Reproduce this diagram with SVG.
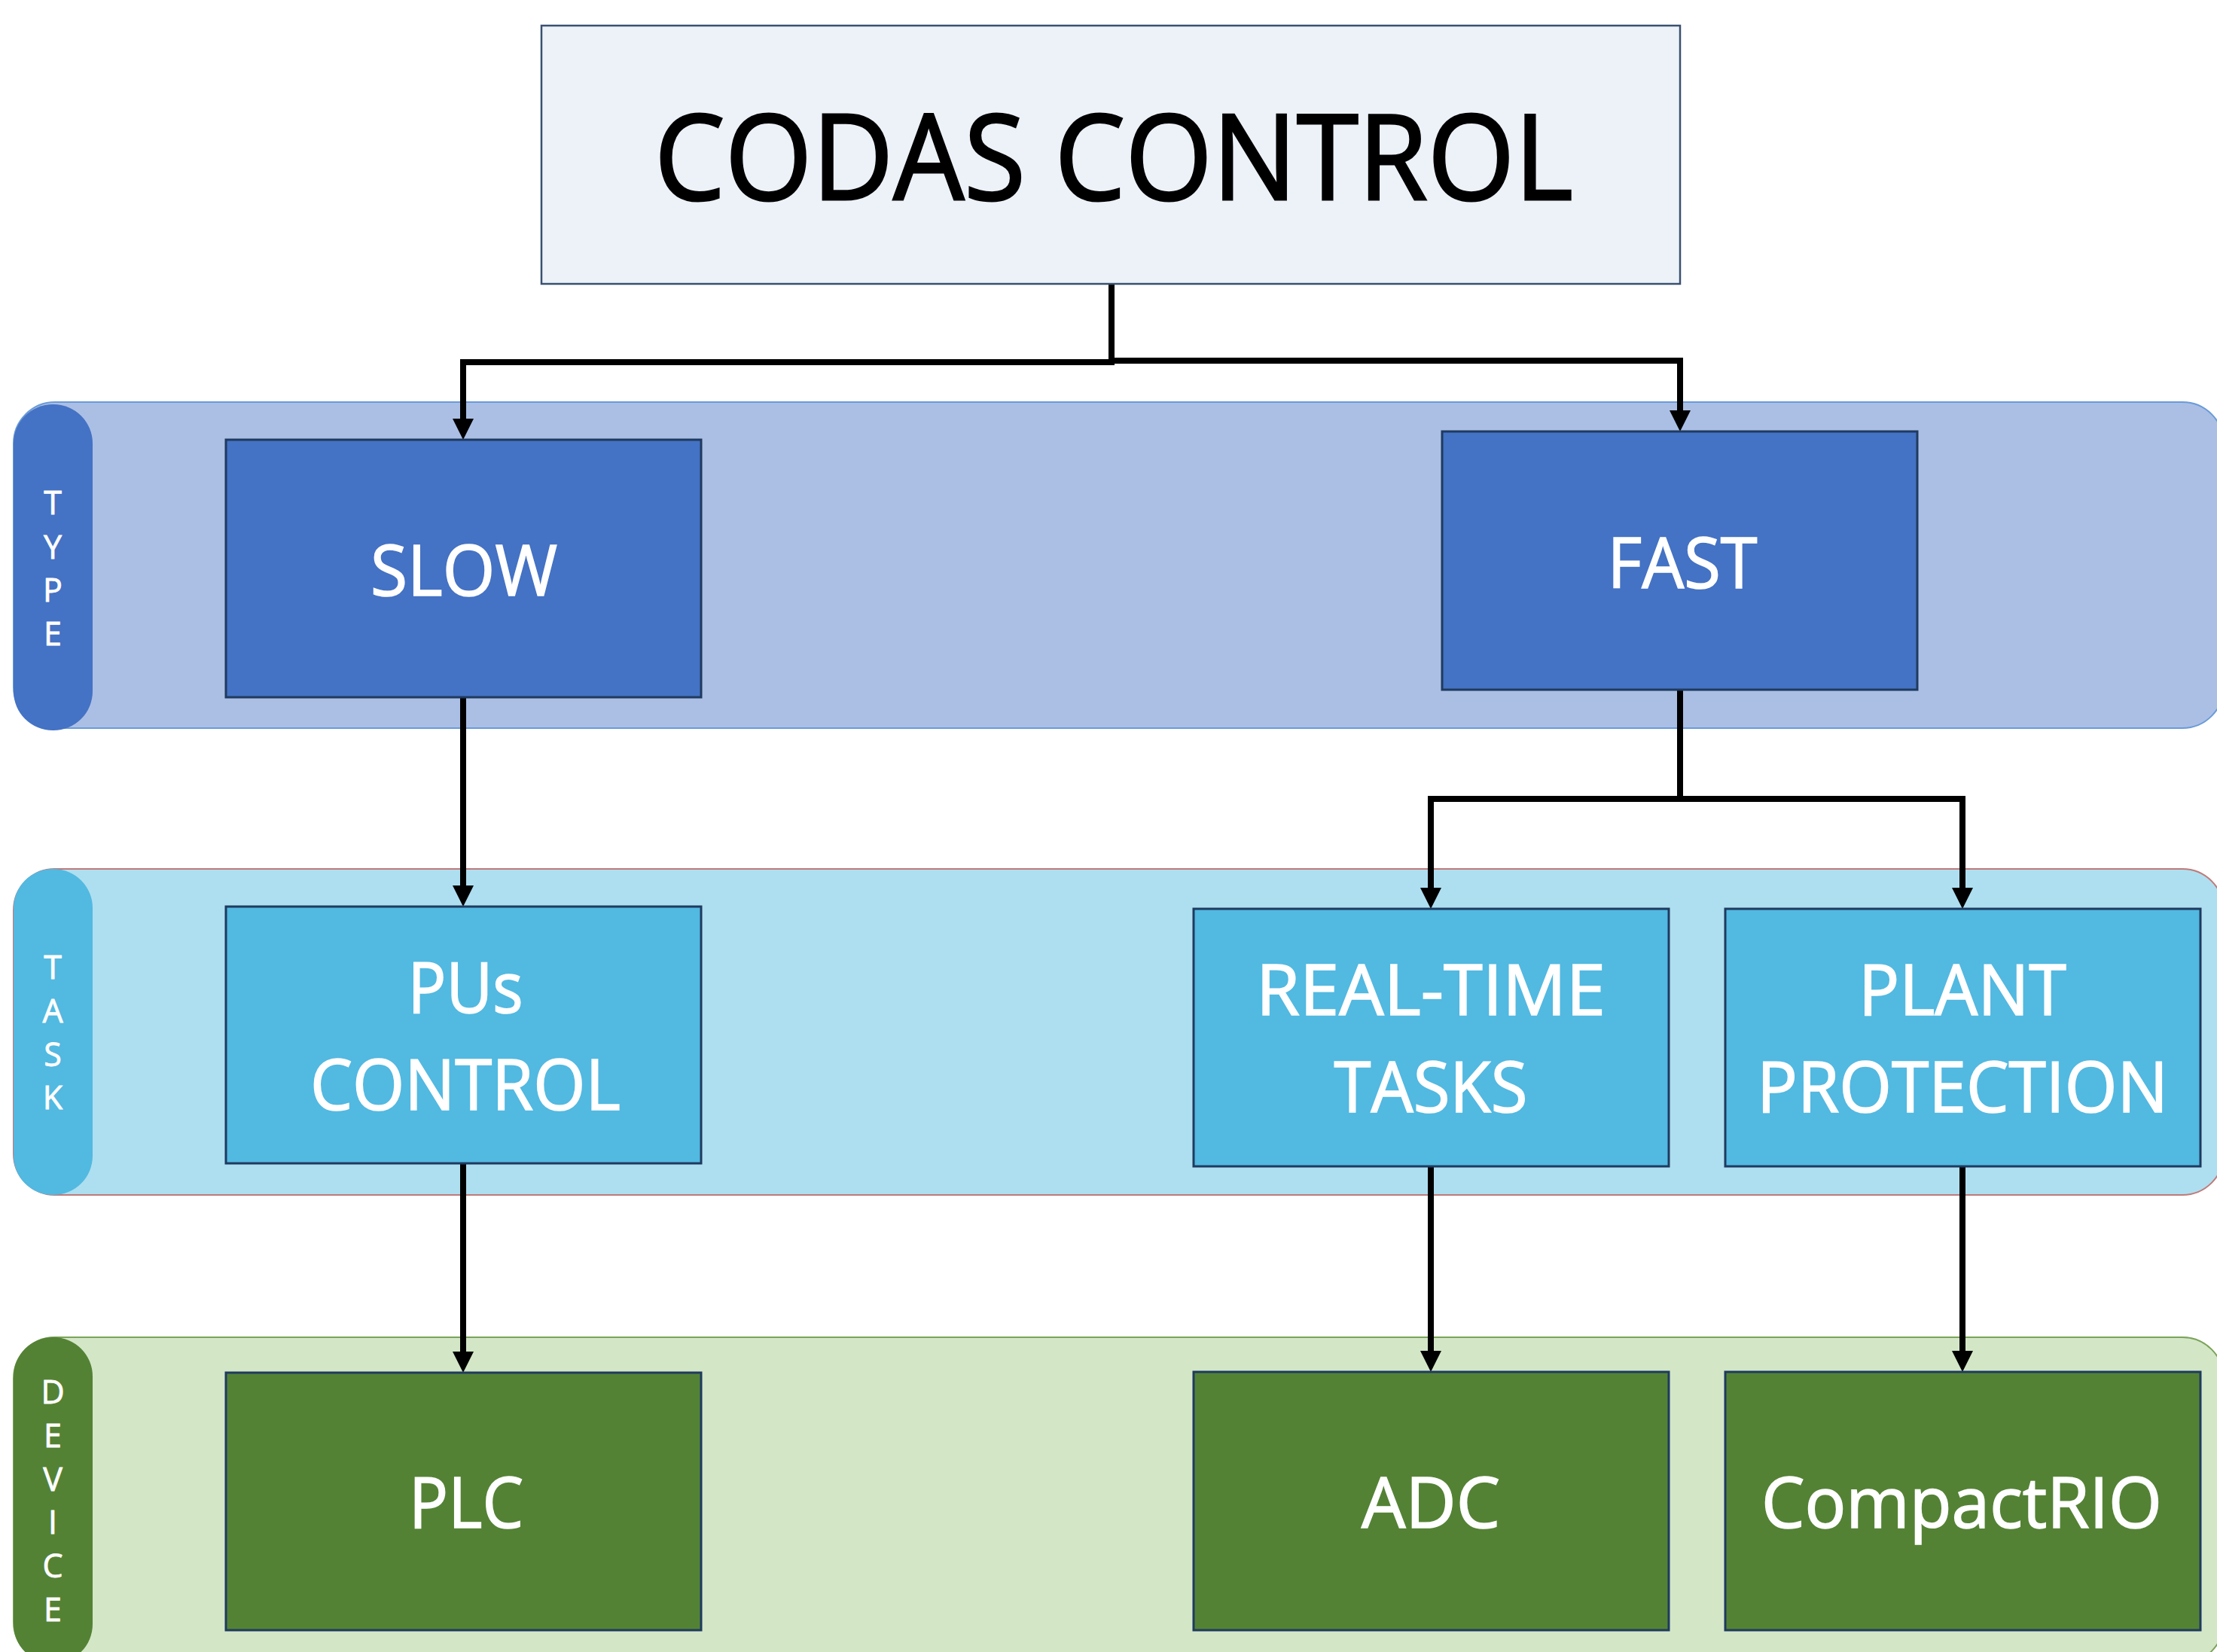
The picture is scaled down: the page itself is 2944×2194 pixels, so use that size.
<svg xmlns="http://www.w3.org/2000/svg" width="2944" height="2194" viewBox="0 0 2944 2194">
  <style>
    .lbl { font-family: "Open Sans", "Noto Sans", "Liberation Sans", sans-serif; text-anchor: middle; }
    .node-text { fill: #ffffff; stroke: #ffffff; stroke-width: 1.6; font-size: 93px; }
    .band-text { fill: #ffffff; stroke: #ffffff; stroke-width: 0.8; font-size: 43px; }
    .title-text { fill: #000000; stroke: #000000; stroke-width: 3; font-size: 157px; }
    .box { stroke: #1f3a5f; stroke-width: 3; }
    .conn { fill: none; stroke: #000000; stroke-width: 8; stroke-linejoin: miter; }
  </style>
  <defs>
    <marker id="arrow" markerUnits="userSpaceOnUse" markerWidth="28" markerHeight="28" refX="0" refY="14" orient="auto" overflow="visible">
      <path d="M0,0 L28,14 L0,28 Z" fill="#000000"/>
    </marker>
  </defs>

  <rect width="2944" height="2194" fill="#ffffff"/>

  <!-- swim lanes -->
  <g id="lanes">
    <g id="lane-type">
      <rect x="18" y="534" width="2935" height="433" rx="55" fill="#abbfe5" stroke="#6a9bd8" stroke-width="2"/>
      <rect x="18" y="537" width="105" height="433" rx="52" fill="#4472c4"/>
      <text class="lbl band-text" x="70" y="683">T</text>
      <text class="lbl band-text" x="70" y="742">Y</text>
      <text class="lbl band-text" x="70" y="799">P</text>
      <text class="lbl band-text" x="70" y="857">E</text>
    </g>
    <g id="lane-task">
      <rect x="18" y="1154" width="2935" height="433" rx="55" fill="#aedff0" stroke="#c07a7a" stroke-width="2"/>
      <rect x="18" y="1154" width="105" height="433" rx="52" fill="#52b9e1"/>
      <text class="lbl band-text" x="70" y="1300">T</text>
      <text class="lbl band-text" x="70" y="1358">A</text>
      <text class="lbl band-text" x="70" y="1416">S</text>
      <text class="lbl band-text" x="70" y="1473">K</text>
    </g>
    <g id="lane-device">
      <rect x="18" y="1776" width="2935" height="433" rx="55" fill="#d3e7c7" stroke="#7ba35a" stroke-width="2"/>
      <rect x="18" y="1776" width="105" height="433" rx="52" fill="#548235"/>
      <text class="lbl band-text" x="70" y="1864">D</text>
      <text class="lbl band-text" x="70" y="1922">E</text>
      <text class="lbl band-text" x="70" y="1980">V</text>
      <text class="lbl band-text" x="70" y="2037">I</text>
      <text class="lbl band-text" x="70" y="2095">C</text>
      <text class="lbl band-text" x="70" y="2153">E</text>
    </g>
  </g>

  <!-- connectors -->
  <g id="connectors">
    <path class="conn" d="M1476,377 V481 H615 V556" marker-end="url(#arrow)"/>
    <path class="conn" d="M1476,377 V479 H2231 V545" marker-end="url(#arrow)"/>
    <path class="conn" d="M615,926 V1176" marker-end="url(#arrow)"/>
    <path class="conn" d="M2231,916 V1061 H1900 V1179" marker-end="url(#arrow)"/>
    <path class="conn" d="M2231,916 V1061 H2606 V1179" marker-end="url(#arrow)"/>
    <path class="conn" d="M615,1545 V1795" marker-end="url(#arrow)"/>
    <path class="conn" d="M1900,1549 V1794" marker-end="url(#arrow)"/>
    <path class="conn" d="M2606,1549 V1794" marker-end="url(#arrow)"/>
  </g>

  <!-- nodes -->
  <g id="codas-control">
    <rect x="719" y="34" width="1512" height="343" fill="#edf2f9" stroke="#3a5070" stroke-width="2.5"/>
    <text class="lbl title-text" x="1479" y="265" textLength="1220" lengthAdjust="spacingAndGlyphs">CODAS CONTROL</text>
  </g>
  <g id="slow">
    <rect class="box" x="300" y="584" width="631" height="342" fill="#4472c4"/>
    <text class="lbl node-text" x="616" y="791" textLength="248" lengthAdjust="spacingAndGlyphs">SLOW</text>
  </g>
  <g id="fast">
    <rect class="box" x="1915" y="573" width="631" height="343" fill="#4472c4"/>
    <text class="lbl node-text" x="2234" y="781" textLength="199" lengthAdjust="spacingAndGlyphs">FAST</text>
  </g>
  <g id="pus-control">
    <rect class="box" x="300" y="1204" width="631" height="341" fill="#52b9e1"/>
    <text class="lbl node-text" x="618" y="1345" textLength="153" lengthAdjust="spacingAndGlyphs">PUs</text>
    <text class="lbl node-text" x="618" y="1474" textLength="412" lengthAdjust="spacingAndGlyphs">CONTROL</text>
  </g>
  <g id="real-time-tasks">
    <rect class="box" x="1585" y="1207" width="631" height="342" fill="#52b9e1"/>
    <text class="lbl node-text" x="1900" y="1348" textLength="464" lengthAdjust="spacingAndGlyphs">REAL-TIME</text>
    <text class="lbl node-text" x="1900" y="1477" textLength="257" lengthAdjust="spacingAndGlyphs">TASKS</text>
  </g>
  <g id="plant-protection">
    <rect class="box" x="2291" y="1207" width="631" height="342" fill="#52b9e1"/>
    <text class="lbl node-text" x="2606" y="1348" textLength="276" lengthAdjust="spacingAndGlyphs">PLANT</text>
    <text class="lbl node-text" x="2606" y="1477" textLength="546" lengthAdjust="spacingAndGlyphs">PROTECTION</text>
  </g>
  <g id="plc">
    <rect class="box" x="300" y="1823" width="631" height="342" fill="#548235"/>
    <text class="lbl node-text" x="619" y="2029" textLength="152" lengthAdjust="spacingAndGlyphs">PLC</text>
  </g>
  <g id="adc">
    <rect class="box" x="1585" y="1822" width="631" height="343" fill="#548235"/>
    <text class="lbl node-text" x="1900" y="2029" textLength="184" lengthAdjust="spacingAndGlyphs">ADC</text>
  </g>
  <g id="compactrio">
    <rect class="box" x="2291" y="1822" width="631" height="343" fill="#548235"/>
    <text class="lbl node-text" x="2605" y="2029" textLength="532" lengthAdjust="spacingAndGlyphs">CompactRIO</text>
  </g>
</svg>
